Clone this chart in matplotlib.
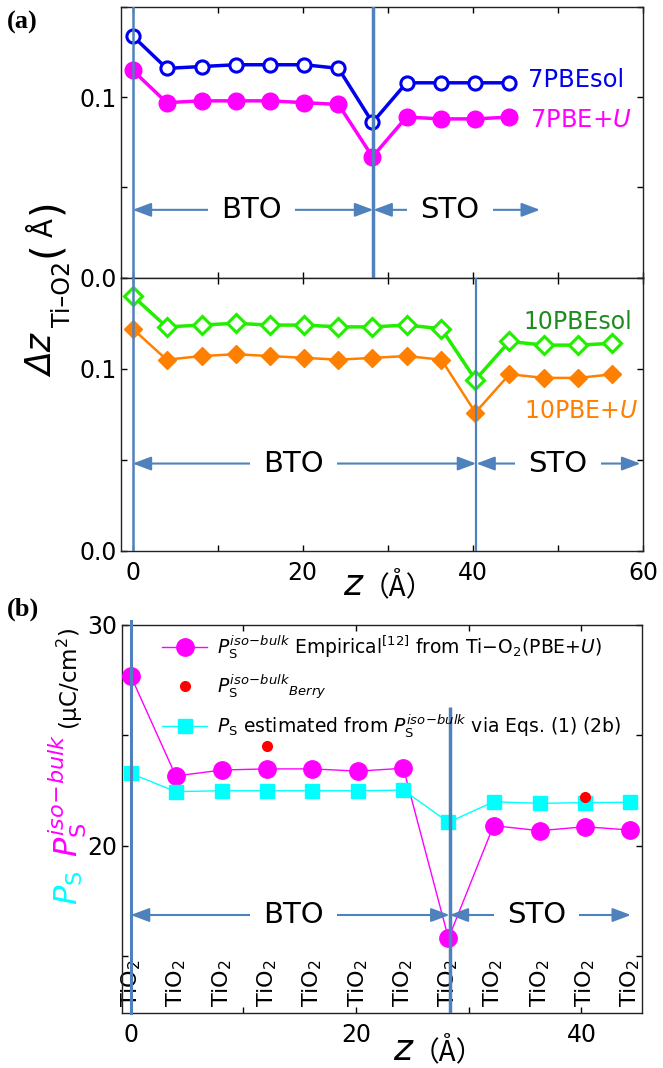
import matplotlib
matplotlib.use("Agg")
import matplotlib.pyplot as plt

plt.rcParams['font.family'] = ['DejaVu Sans', 'Noto Sans CJK JP']
plt.rcParams['mathtext.fontset'] = 'dejavusans'

# layer positions along z (Angstrom)
z7 = [0.0, 4.0, 8.1, 12.1, 16.1, 20.2, 24.2, 28.2, 32.2, 36.3, 40.3, 44.3]
z10 = [0.0, 4.0, 8.1, 12.1, 16.1, 20.2, 24.2, 28.2, 32.2, 36.3, 40.3, 44.3, 48.4, 52.4, 56.4]
iface7 = 28.3
iface10 = 40.4

# Ti-O2 displacement (Angstrom)
dz_7pbesol = [0.134, 0.116, 0.117, 0.118, 0.118, 0.118, 0.116, 0.086, 0.108, 0.108, 0.108, 0.108]
dz_7pbeu = [0.115, 0.097, 0.098, 0.098, 0.098, 0.097, 0.096, 0.067, 0.089, 0.088, 0.088, 0.089]
dz_10pbesol = [0.140, 0.123, 0.124, 0.125, 0.124, 0.124, 0.123, 0.123, 0.124, 0.122,
               0.094, 0.115, 0.113, 0.113, 0.114]
dz_10pbeu = [0.122, 0.105, 0.107, 0.108, 0.107, 0.106, 0.105, 0.106, 0.107, 0.105,
             0.076, 0.097, 0.095, 0.095, 0.097]

# polarization (uC/cm2)
ps_empirical = [27.70, 23.16, 23.43, 23.48, 23.48, 23.38, 23.51, 15.80, 20.91, 20.68, 20.86, 20.71]
ps_estimated = [23.28, 22.45, 22.49, 22.49, 22.49, 22.49, 22.52, 21.06, 21.99, 21.92, 21.95, 21.97]
z_berry = [12.1, 40.3]
ps_berry = [24.52, 22.19]

layer_names = ['TiO$_2$'] * len(z7)

BLUE = '#0000ee'
MAG = '#ff00ff'
GREEN = '#22ee00'
ORANGE = '#ff8000'
CYAN = '#00ffff'
LINEC = '#4f81bd'

W, H = 663, 1068
fig = plt.figure(figsize=(W / 100, H / 100), dpi=100)


def box(x0, y0, x1, y1):
    return [x0 / W, 1 - y1 / H, (x1 - x0) / W, (y1 - y0) / H]


ax1 = fig.add_axes(box(120.7, 7, 643, 277.7))
ax2 = fig.add_axes(box(120.7, 277.7, 643, 551))
ax3 = fig.add_axes(box(121.7, 625, 642.3, 1013))

for ax in (ax1, ax2, ax3):
    ax.tick_params(direction='in', top=True, right=True, length=4, width=1,
                   labelsize=17, pad=3)
    ax.tick_params(axis='x', pad=7)
    for s in ax.spines.values():
        s.set_linewidth(1.0)
        s.set_color('#222222')

for ax in (ax1, ax2):
    ax.set_xlim(-1.4, 60)
    ax.set_ylim(0, 0.15)
    ax.set_xticks(range(0, 61, 10))
    ax.set_yticks([0, 0.05, 0.1, 0.15])
    ax.set_yticklabels(['0.0', '', '0.1', ''])
ax1.tick_params(labelbottom=False)
ax2.set_xticklabels(['0', '', '20', '', '40', '', '60'])

ax3.set_xlim(-0.8, 45.4)
ax3.set_ylim(12.42, 30)
ax3.set_xticks([0, 10, 20, 30, 40])
ax3.set_xticklabels(['0', '', '20', '', '40'])
ax3.set_yticks([15, 20, 25, 30])
ax3.set_yticklabels(['', '20', '', '30'])


def span_arrow(ax, x0, x1, y, label, xt):
    ax.annotate('', xy=(x1, y), xytext=(x0, y),
                arrowprops=dict(arrowstyle='<|-|>,head_length=0.8,head_width=0.3',
                                color=LINEC, lw=1.5, shrinkA=0, shrinkB=0,
                                mutation_scale=14))
    ax.text(xt, y, label, ha='center', va='center', fontsize=21, zorder=6,
            bbox=dict(boxstyle='square,pad=0.45', fc='white', ec='none'))


# (a) upper: 7-layer BTO
ax1.plot(z7, dz_7pbesol, '-o', color=BLUE, mfc='white', ms=9.5, mew=2.2, lw=2.5, zorder=3)
ax1.plot(z7, dz_7pbeu, '-o', color=MAG, ms=12, lw=2.5, zorder=3)
ax1.axvline(0, color=LINEC, lw=1.8, zorder=5)
ax1.axvline(iface7, color=LINEC, lw=2.5, zorder=5)
span_arrow(ax1, 0, iface7, 0.0376, 'BTO', 14.0)
span_arrow(ax1, iface7, 47.9, 0.0376, 'STO', 37.3)
ax1.text(46.5, 0.1054, '7PBEsol', color=BLUE, fontsize=17.5, va='baseline')
ax1.text(46.7, 0.0837, '7PBE+$U$', color=MAG, fontsize=17.5, va='baseline')

# (a) lower: 10-layer BTO
ax2.plot(z10, dz_10pbesol, '-D', color=GREEN, mfc='white', ms=9.5, mew=2.2, lw=2.5, zorder=3)
ax2.plot(z10, dz_10pbeu, '-D', color=ORANGE, ms=9, lw=1.8, zorder=3)
ax2.axvline(0, color=LINEC, lw=1.8, zorder=5)
ax2.axvline(iface10, color=LINEC, lw=1.6, zorder=5)
span_arrow(ax2, 0, iface10, 0.048, 'BTO', 18.9)
span_arrow(ax2, iface10, 59.7, 0.048, 'STO', 50.0)
ax2.text(46.0, 0.122, '10PBEsol', color='#1e8c1e', fontsize=17, va='baseline')
ax2.text(46.0, 0.0728, '10PBE+$U$', color=ORANGE, fontsize=17, va='baseline')

# (b) polarization
l_emp, = ax3.plot(z7, ps_empirical, '-o', color=MAG, ms=12.5, lw=1, zorder=3)
l_est, = ax3.plot(z7, ps_estimated, '-s', color=CYAN, ms=9.5, lw=1, zorder=3)
l_berry, = ax3.plot(z_berry, ps_berry, 'o', color='red', ms=7, ls='none', zorder=4)
ax3.axvline(0, ymax=1.01, color=LINEC, lw=2.2, zorder=5, clip_on=False)
ax3.vlines(iface7, 12.42, 26.27, color=LINEC, lw=2.5, zorder=5)
span_arrow(ax3, 0, iface7, 16.86, 'BTO', 14.45)
span_arrow(ax3, iface7, 44.4, 16.86, 'STO', 36.0)
for z, name in zip(z7, layer_names):
    ax3.text(z, 12.7, name, rotation=90, ha='center', va='bottom', fontsize=16, zorder=2)

ax3.legend([l_emp, l_berry, l_est],
           [r'$P_\mathrm{S}^{iso\!-\!bulk}$ Empirical$^{[12]}$ from Ti$-$O$_2$(PBE+$U$)',
            r'$P_\mathrm{S}^{iso\!-\!bulk}{}_{Berry}$',
            r'$P_\mathrm{S}$ estimated from $P_\mathrm{S}^{iso\!-\!bulk}$ via Eqs. (1) (2b)'],
           loc='upper left', bbox_to_anchor=(162 / W, 1 - 633 / H),
           bbox_transform=fig.transFigure, frameon=False, fontsize=13.5,
           handlelength=2.4, handletextpad=0.55, labelspacing=0.6, borderpad=0,
           borderaxespad=0)

renderer = fig.canvas.get_renderer()


def stack_up(x, y, pieces):
    # rotated pieces reading upward from pixel (x, y), y measured from the top
    for s, dx, gap, kw in pieces:
        t = fig.text((x + dx) / W, 1 - y / H, s, rotation=90, rotation_mode='anchor',
                     ha='left', va='baseline', **kw)
        bb = t.get_window_extent(renderer)
        y = H - bb.y1 - gap


def run_right(x, y, pieces):
    for s, gap, kw in pieces:
        t = fig.text(x / W, 1 - y / H, s, ha='left', va='baseline', **kw)
        bb = t.get_window_extent(renderer)
        x = bb.x1 + gap


cjk = dict(family=['Noto Sans CJK JP'])

stack_up(53, 377, [
    ('Δz', 0, 8, dict(fontsize=25, style='italic')),
    ('Ti–O2', 17, 4, dict(fontsize=17)),
    ('(', 4, 4, dict(fontsize=29)),
    ('Å', 0, 4, dict(fontsize=20)),
    (')', 4, 0, dict(fontsize=29)),
])

stack_up(78, 905, [
    (r'$P_\mathrm{S}$', 0, 14, dict(fontsize=23, color=CYAN)),
    (r'$P_\mathrm{S}^{iso\!-\!bulk}$', 0, 3, dict(fontsize=23, color=MAG)),
    (r'(μC/cm$^2$)', 0, 0, dict(fontsize=16.5)),
])

run_right(343, 595, [('z', 0, dict(fontsize=26, style='italic')),
                     ('（Å）', 0, dict(fontsize=20, **cjk))])
run_right(393, 1060, [('z', 0, dict(fontsize=26, style='italic')),
                      ('（Å）', 0, dict(fontsize=20, **cjk))])

fig.text(7 / W, 1 - 22 / H, '(a)', family='Liberation Serif', weight='bold',
         fontsize=19, va='center')
fig.text(7 / W, 1 - 609 / H, '(b)', family='Liberation Serif', weight='bold',
         fontsize=19, va='center')

fig.savefig('out.png', dpi=100)
